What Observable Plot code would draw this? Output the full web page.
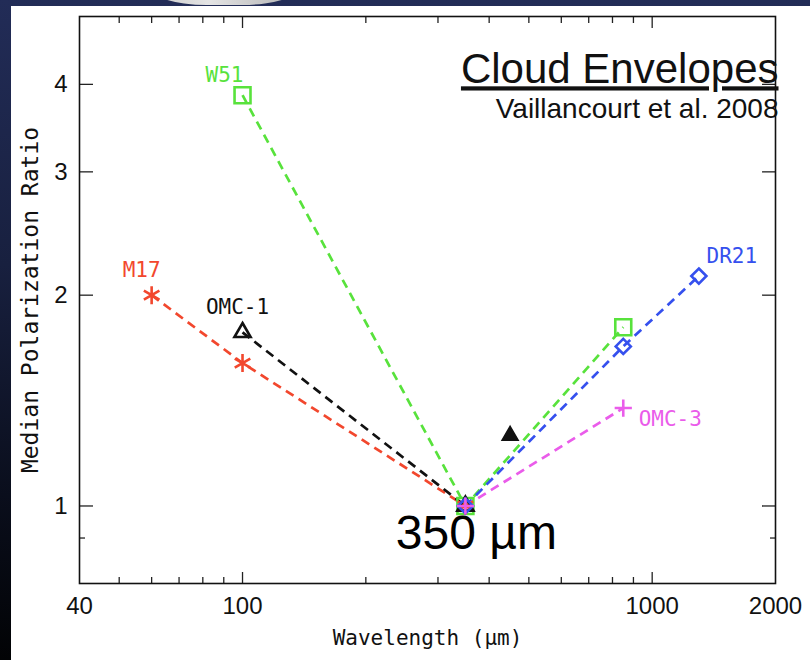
<!DOCTYPE html>
<html>
<head>
<meta charset="utf-8">
<script src="https://cdn.jsdelivr.net/npm/d3@7"></script>
<script src="https://cdn.jsdelivr.net/npm/@observablehq/plot@0.6"></script>
<style>
  html, body { margin: 0; padding: 0; }
  body {
    width: 810px; height: 660px; overflow: hidden; position: relative;
    background: linear-gradient(to bottom, #222c57 0%, #18203f 40%, #0a0e1c 75%, #020305 100%);
  }
  #panel { position: absolute; left: 11px; top: 6px; right: 0; bottom: 0; background: #fff; }
  #tab {
    position: absolute; left: 147px; top: -22px; width: 155px; height: 27px;
    border-radius: 0 0 60px 60px / 0 0 20px 20px;
    background: linear-gradient(to right, #c9c9c9, #e4e4e4 40%, #b0b0b0);
  }
  #chart { position: absolute; left: 0; top: 0; }
</style>
</head>
<body>
<div id="tab"></div>
<div id="panel"></div>
<div id="chart"></div>
<script>
// Median polarization ratio (normalised to 350 µm) versus wavelength for cloud envelopes
const w51Wave = [100, 350, 850];
const w51Ratio = [3.86, 1.0, 1.80];
const m17Wave = [60, 100, 350];
const m17Ratio = [2.0, 1.60, 1.0];
const omc1Wave = [100, 350];
const omc1Ratio = [1.77, 1.0];
const dr21Wave = [350, 850, 1300];
const dr21Ratio = [1.0, 1.69, 2.13];
const omc3Wave = [350, 850];
const omc3Ratio = [1.0, 1.38];
// isolated OMC-1 measurement at 450 µm (not joined to the others)
const omc1LongWave = [450];
const omc1LongRatio = [1.26];

const seriesNames = ["W51", "M17", "OMC-1", "DR21", "OMC-3"];
const xTickLabels = [40, 100, 1000, 2000];
const xMajorTicks = [100, 1000];
const xMinorTicks = [50, 60, 70, 80, 90, 200, 300, 400, 500, 600, 700, 800, 900];
const yTickLabels = [1, 2, 3, 4];
const yMinorTicks = [0.9];
const referenceWave = [350];
const referenceLabel = ["350 µm"];

const rows = (name, waves, ratios) => waves.map((w, i) => ({name, wave: w, ratio: ratios[i]}));
const seriesRows = {
  "W51": rows("W51", w51Wave, w51Ratio),
  "M17": rows("M17", m17Wave, m17Ratio),
  "OMC-1": rows("OMC-1", omc1Wave, omc1Ratio),
  "DR21": rows("DR21", dr21Wave, dr21Ratio),
  "OMC-3": rows("OMC-3", omc3Wave, omc3Ratio)
};

// drawing style for each source: colour, marker, and where its name sits
const look = {
  "W51":   {color: "#58e23c", symbol: "square",   r: 9,   label: 100,  dx: -18, dy: -20},
  "M17":   {color: "#f2472d", symbol: "asterisk", r: 8.5, label: 60,   dx: -10, dy: -25},
  "OMC-1": {color: "#111111", symbol: "triangle", r: 6,   label: 100,  dx: -5,  dy: -25},
  "DR21":  {color: "#3550ee", symbol: "diamond2", r: 6.8, label: 1300, dx: 33,  dy: -20},
  "OMC-3": {color: "#ea5cea", symbol: "plus",     r: 5.6, label: 850,  dx: 47,  dy: 11}
};

const mono = "'DejaVu Sans Mono', 'Liberation Mono', monospace";
const sans = "'Liberation Sans', Arial, sans-serif";

const lineMarks = seriesNames.map(name => Plot.line(seriesRows[name], {
  x: "wave", y: "ratio", stroke: look[name].color,
  strokeWidth: 2.7, strokeDasharray: "9,6", strokeLinecap: "butt"
}));

const dotMarks = seriesNames.map(name => Plot.dot(seriesRows[name], {
  x: "wave", y: "ratio", symbol: look[name].symbol, r: look[name].r,
  stroke: look[name].color, fill: "none", strokeWidth: 2.6
}));

const nameMarks = seriesNames.map(name => Plot.text(
  seriesRows[name].filter(d => d.wave === look[name].label), {
    x: "wave", y: "ratio", text: "name", fill: look[name].color,
    dx: look[name].dx, dy: look[name].dy,
    fontSize: 21, fontFamily: mono, letterSpacing: 1.3
  }));

const chart = Plot.plot({
  width: 810,
  height: 660,
  marginLeft: 79,
  marginRight: 35,
  marginTop: 16,
  marginBottom: 77,
  style: {background: "transparent", overflow: "visible", color: "#111"},
  x: {type: "log", domain: [40, 2000], label: null},
  y: {type: "log", domain: [0.775, 5], label: null},
  marks: [
    // inward ticks on all four sides
    Plot.axisX({anchor: "bottom", ticks: xMajorTicks, tickSize: -11, fill: "none", stroke: "#222", strokeWidth: 1.3}),
    Plot.axisX({anchor: "bottom", ticks: xMinorTicks, tickSize: -6, fill: "none", stroke: "#222", strokeWidth: 1.3}),
    Plot.axisX({anchor: "top", ticks: xMajorTicks, tickSize: -11, fill: "none", stroke: "#222", strokeWidth: 1.3}),
    Plot.axisX({anchor: "top", ticks: xMinorTicks, tickSize: -6, fill: "none", stroke: "#222", strokeWidth: 1.3}),
    Plot.axisY({anchor: "left", ticks: yTickLabels, tickSize: -14, fill: "none", stroke: "#222", strokeWidth: 1.3}),
    Plot.axisY({anchor: "left", ticks: yMinorTicks, tickSize: -6, fill: "none", stroke: "#222", strokeWidth: 1.3}),
    Plot.axisY({anchor: "right", ticks: yTickLabels, tickSize: -14, fill: "none", stroke: "#222", strokeWidth: 1.3}),
    Plot.axisY({anchor: "right", ticks: yMinorTicks, tickSize: -6, fill: "none", stroke: "#222", strokeWidth: 1.3}),
    // tick labels
    Plot.axisX({anchor: "bottom", ticks: xTickLabels, tickSize: 0, tickPadding: 13,
      tickFormat: d => String(d), fontSize: 24, fontFamily: sans, fill: "#111", label: null}),
    Plot.axisY({anchor: "left", ticks: yTickLabels, tickSize: 0, tickPadding: 12,
      tickFormat: d => String(d), fontSize: 24, fontFamily: sans, fill: "#111", label: null}),
    Plot.frame({stroke: "#111", strokeWidth: 1.6}),
    // axis titles
    Plot.text(["Wavelength (µm)"], {frameAnchor: "bottom", textAnchor: "middle", lineAnchor: "middle",
      dy: 55, fontSize: 21, fontFamily: mono, letterSpacing: 0.2, fill: "#111"}),
    Plot.text(["Median Polarization Ratio"], {frameAnchor: "left", textAnchor: "middle", lineAnchor: "middle",
      rotate: -90, dx: -49, fontSize: 23, fontFamily: mono, letterSpacing: 0.7, fill: "#111"}),
    // heading in the upper right of the frame
    Plot.text(["Cloud Envelopes"], {frameAnchor: "top-right", textAnchor: "end", lineAnchor: "top",
      dx: 3, dy: 37, fontSize: 42, fontFamily: sans, fill: "#111"}),
    Plot.text(["Vaillancourt et al. 2008"], {frameAnchor: "top-right", textAnchor: "end", lineAnchor: "top",
      dx: 3, dy: 82, fontSize: 28, fontFamily: sans, fill: "#111"}),
    ...lineMarks,
    ...dotMarks,
    Plot.dot(omc1LongWave.map((w, i) => ({wave: w, ratio: omc1LongRatio[i]})), {
      x: "wave", y: "ratio", symbol: "triangle", r: 6, fill: "#111", stroke: "#111", strokeWidth: 1.5
    }),
    ...nameMarks,
    Plot.text(referenceWave.map((w, i) => ({wave: w, ratio: 1, label: referenceLabel[i]})), {
      x: "wave", y: "ratio", text: "label", dx: 11, dy: 28,
      fontSize: 48, fontFamily: sans, fill: "#000", textAnchor: "middle", lineAnchor: "middle"
    })
  ]
});

// underline the heading
d3.select(chart).selectAll("text").filter(function() { return this.textContent === "Cloud Envelopes"; })
  .style("text-decoration", "underline");

document.getElementById("chart").appendChild(chart);
</script>
</body>
</html>
